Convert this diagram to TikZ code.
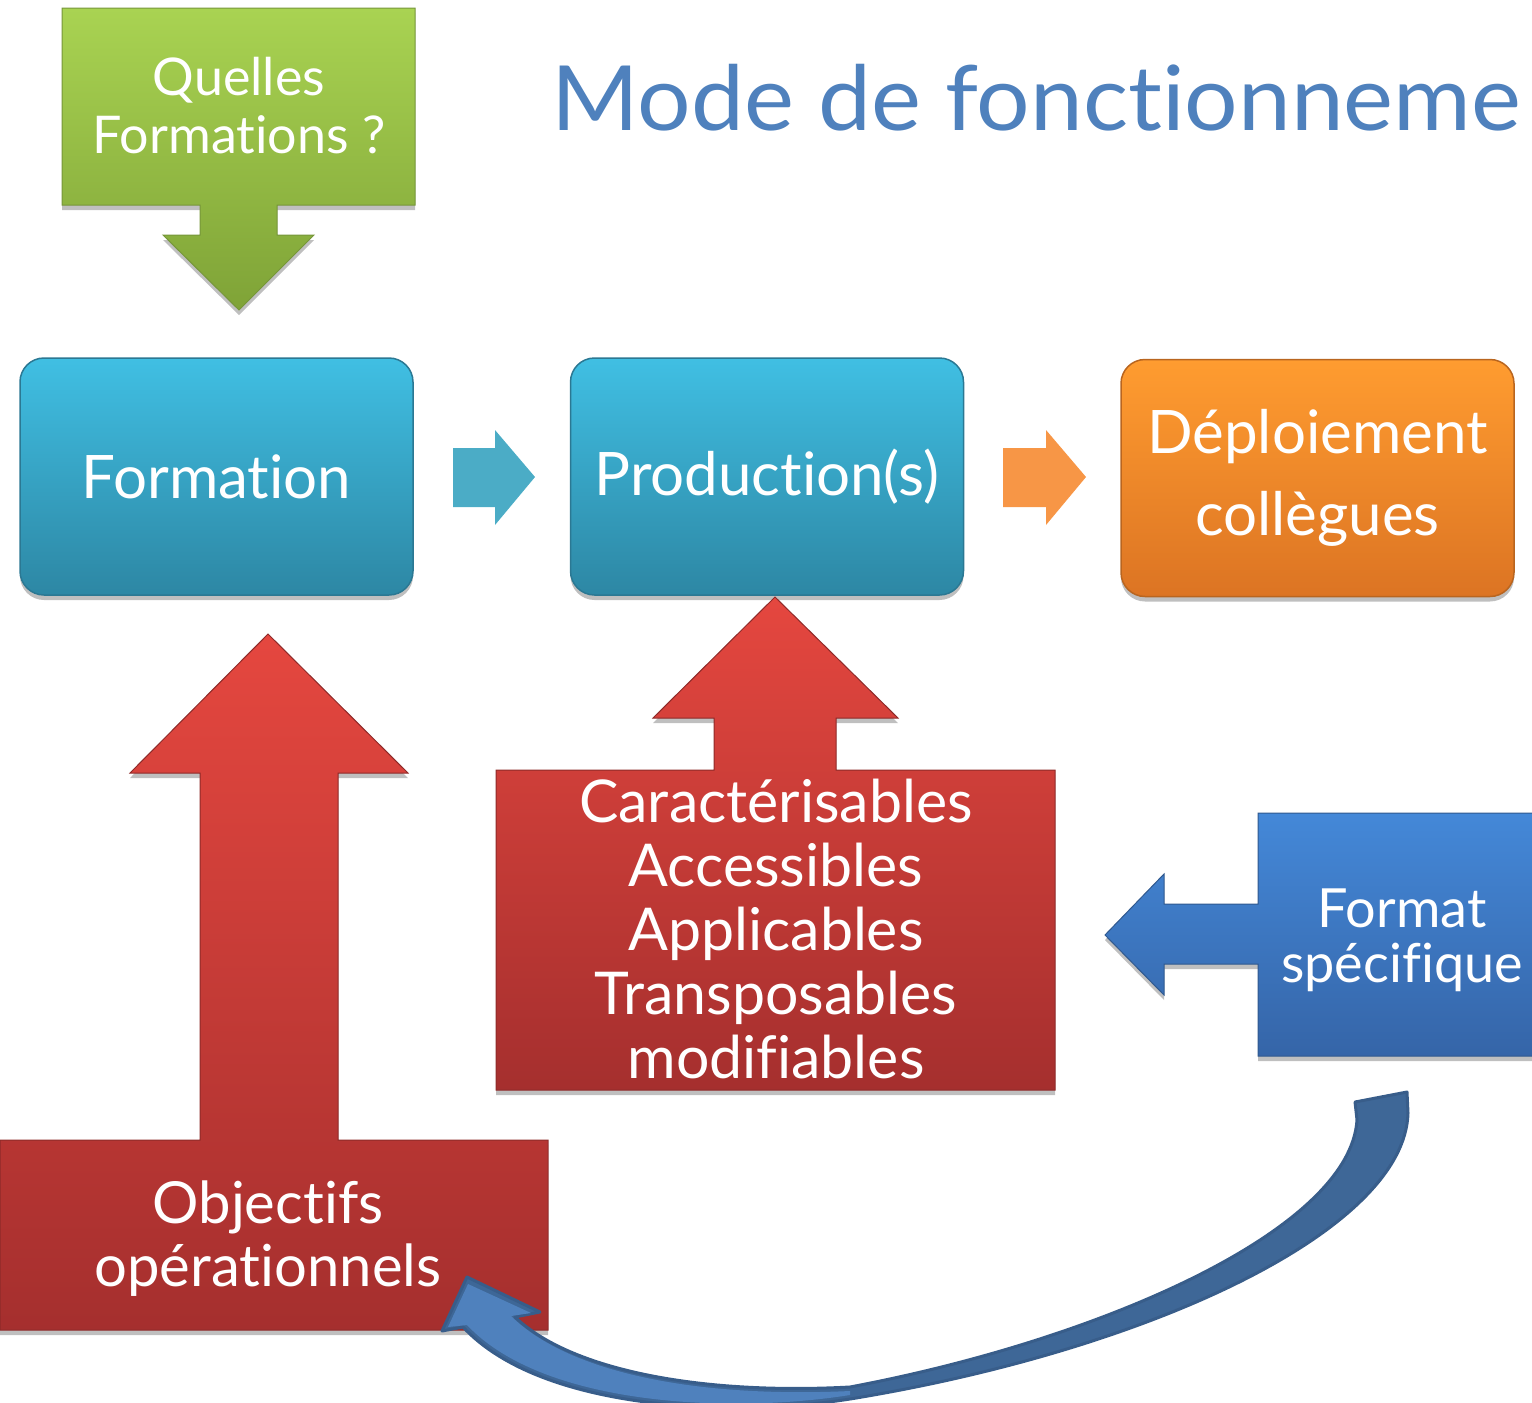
\documentclass[tikz,border=0pt]{standalone}
\usepackage{fontspec}
\setmainfont{Lato}[Ligatures={NoCommon,NoRare,NoContextual}]
\usetikzlibrary{shadows}
\definecolor{grT}{HTML}{A9D352}
\definecolor{grB}{HTML}{7FA337}
\definecolor{grD}{HTML}{76963A}
\definecolor{cyT}{HTML}{40BFE3}
\definecolor{cyB}{HTML}{2D87A4}
\definecolor{cyD}{HTML}{2B7893}
\definecolor{orT}{HTML}{FF9C30}
\definecolor{orB}{HTML}{DC7423}
\definecolor{orD}{HTML}{B9651F}
\definecolor{tealA}{HTML}{4BACC6}
\definecolor{orA}{HTML}{F79646}
\definecolor{rdT}{HTML}{E5473F}
\definecolor{rdB}{HTML}{A52F2E}
\definecolor{rdD}{HTML}{8E2A29}
\definecolor{blT}{HTML}{4488D8}
\definecolor{blB}{HTML}{3565A8}
\definecolor{blD}{HTML}{30598F}
\definecolor{cvL}{HTML}{4F81BD}
\definecolor{cvD}{HTML}{3E6797}
\definecolor{cvO}{HTML}{385D8A}
\definecolor{titleC}{HTML}{4F81BD}
\tikzset{
  shad/.style={drop shadow={shadow xshift=0pt,shadow yshift=-5pt,opacity=.25,fill=black}},
  roundbox/.style={rounded corners=24pt, minimum width=393pt, minimum height=237pt,
     line width=1.5pt, text=white, align=center, inner sep=0pt, shad,
     font=\fontsize{60}{82}\selectfont},
  cyanbox/.style={roundbox, top color=cyT, bottom color=cyB, draw=cyD},
  orangebox/.style={roundbox, top color=orT, bottom color=orB, draw=orD},
  label/.style={text=white, align=center, inner sep=0pt},
  greenshape/.style={top color=grT, bottom color=grB, draw=grD, line width=1pt, line join=miter, shad},
  redshape/.style={top color=rdT, bottom color=rdB, draw=rdD, line width=1pt, shad},
  blueshape/.style={top color=blT, bottom color=blB, draw=blD, line width=1pt, shad},
}
\begin{document}
\begin{tikzpicture}[x=1pt,y=-1pt]
\useasboundingbox (0,0) rectangle (1532,1403);
\clip (0,0) rectangle (1532,1403);

% title
\node[anchor=base west, inner sep=0pt, text=titleC, xscale=1.05, font=\fontsize{90}{100}\selectfont] (title) at (551,130) {Mode de fonctionneme};

% green callout
\path[greenshape] (62,8) -- (415,8) -- (415,205) -- (277,205) -- (277,235) -- (314,235) -- (239,310) -- (163,235) -- (200,235) -- (200,205) -- (62,205) -- cycle;
\node[label, font=\fontsize{52}{58}\selectfont] (quelles) at (239,106) {Quelles\\Formations ?};

% top row boxes
\node[cyanbox] (formation) at (216.5,476.5) {Formation};
\node[cyanbox] (production) at (767,476.5) {Production(s)};
\node[orangebox] (deploiement) at (1317.5,478) {Déploiement\\collègues};

% small block arrows
\fill[tealA] (453,448) -- (495,448) -- (495,430) -- (535,477) -- (495,525) -- (495,507) -- (453,507) -- cycle;
\fill[orA] (1003,448) -- (1046,448) -- (1046,430) -- (1086,477) -- (1046,525) -- (1046,507) -- (1003,507) -- cycle;

% left red callout
\path[redshape] (0,1140) -- (200,1140) -- (200,773) -- (130,773) -- (268,634) -- (408,773) -- (338,773) -- (338,1140) -- (548,1140) -- (548,1330) -- (0,1330) -- cycle;
\node[label, font=\fontsize{58}{63}\selectfont] (objectifs) at (268,1239) {Objectifs\\opérationnels};

% middle red callout
\path[redshape] (496,770) -- (714,770) -- (714,718) -- (653,718) -- (775,597) -- (898,718) -- (836,718) -- (836,770) -- (1055,770) -- (1055,1090) -- (496,1090) -- cycle;
\node[label, font=\fontsize{59}{64}\selectfont] (qualites) at (776,929) {Caractérisables\\Accessibles\\Applicables\\Transposables\\modifiables};

% blue callout
\path[blueshape] (1258,813) -- (1545,813) -- (1545,1056) -- (1258,1056) -- (1258,964) -- (1164,964) -- (1164,995) -- (1105,935) -- (1164,874) -- (1164,904) -- (1258,904) -- cycle;
\node[label, font=\fontsize{54}{55}\selectfont] (format) at (1402,940) {Format\\spécifique};

% curved arrow from format to objectifs
\coordinate (cstart) at (1381,1097);
\coordinate (cend) at (467,1277);
\path[fill=cvD, draw=cvO, line width=3pt, line join=round]
  (1355,1102) -- (1407,1092) -- (1408,1113) .. controls (1405,1230) and (1150,1350) .. (850,1399)
  .. controls (730,1418) and (540,1410) .. (463,1327) -- (442,1331) -- (cend) -- (540,1312) -- (515,1317)
  .. controls (570,1370) and (700,1395) .. (850,1387)
  .. controls (1100,1340) and (1350,1230) .. (1357,1120) -- cycle;
\path[fill=cvL]
  (850,1395) .. controls (730,1414) and (543,1406) .. (467,1325) -- (448,1327) -- (468,1284) -- (531,1313) -- (511,1316)
  .. controls (570,1374) and (700,1398) .. (850,1391) -- cycle;
\end{tikzpicture}
\end{document}
